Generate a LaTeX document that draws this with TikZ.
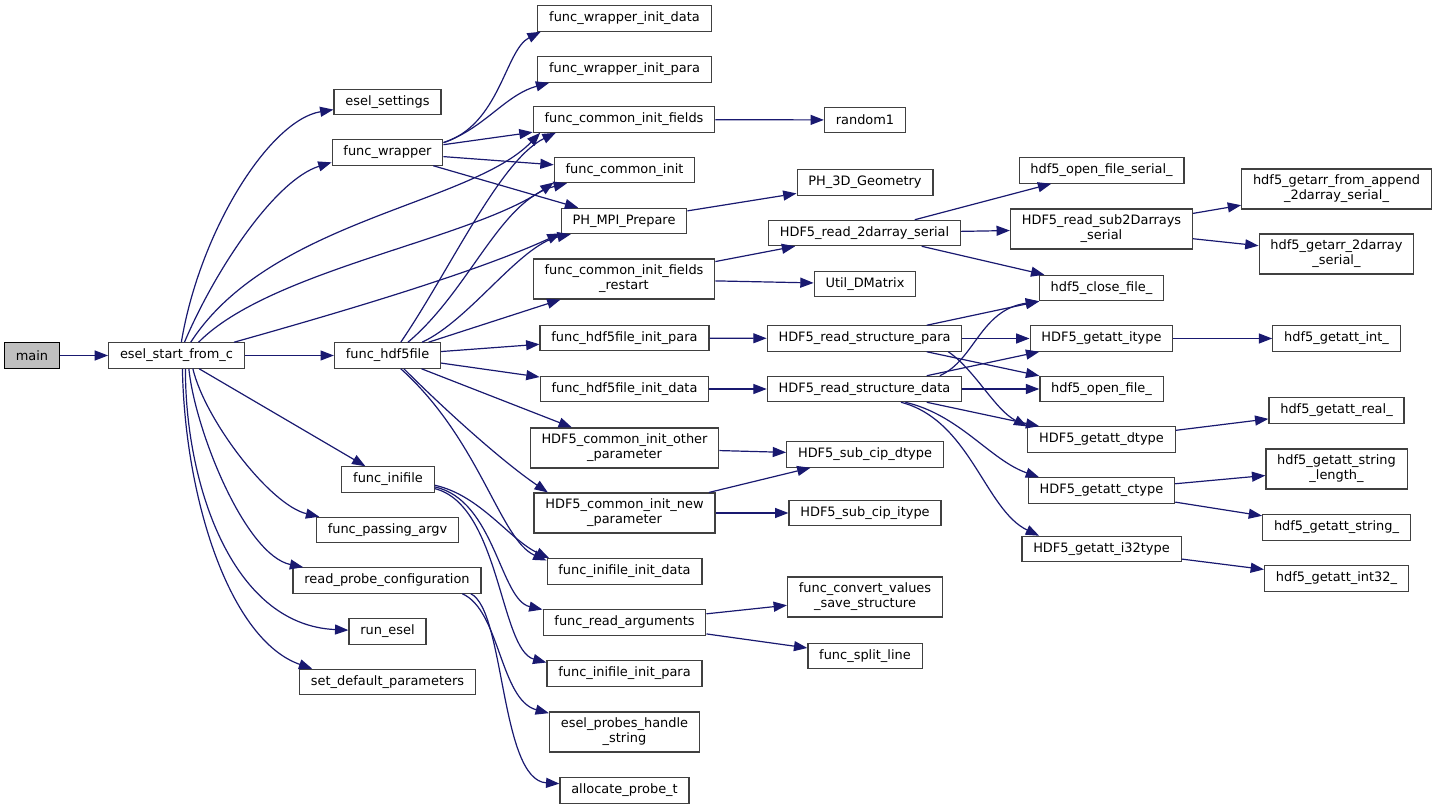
\documentclass[tikz,border=0pt]{standalone}
\usepackage{fontspec}
\setmainfont{DejaVu Sans}
\usetikzlibrary{arrows.meta}
\definecolor{edgeblue}{HTML}{191970}
\definecolor{boxgrey}{HTML}{404040}
\definecolor{maingrey}{HTML}{BFBFBF}

\begin{document}
\begin{tikzpicture}[
  x=0.75pt, y=-0.75pt,
  fn/.style={rectangle, draw=boxgrey, line width=0.9pt, fill=white, minimum height=19pt,
             inner xsep=8.5pt, inner ysep=4.5pt, align=center, font=\fontsize{9.7}{11.25}\selectfont},
  mainfn/.style={fn, draw=black, fill=maingrey},
  call/.style={-{Triangle[length=10pt,width=7.5pt]}, draw=edgeblue, line width=0.9pt}
]
  \useasboundingbox (0,0) rectangle (1437,809);

  \node[mainfn] (main) at (32,355.5) {main};
  \node[fn] (esel) at (176.5,355.5) {esel\_start\_from\_c};

  \node[fn] (settings)  at (387.5,102)   {esel\_settings};
  \node[fn] (wrapper)   at (387.5,152.5) {func\_wrapper};
  \node[fn] (hdf)       at (387.5,355.5) {func\_hdf5file};
  \node[fn] (inifile)   at (388,479.5)   {func\_inifile};
  \node[fn] (argv)      at (387.5,530)   {func\_passing\_argv};
  \node[fn] (probecfg)  at (387,580.5)   {read\_probe\_configuration};
  \node[fn] (runesel)   at (387.5,631.5) {run\_esel};
  \node[fn] (defparams) at (387.5,682)   {set\_default\_parameters};

  \node[fn] (wdata)    at (624.5,18.5)  {func\_wrapper\_init\_data};
  \node[fn] (wpara)    at (624.5,69.5)  {func\_wrapper\_init\_para};
  \node[fn] (cfields)  at (624,119.5)   {func\_common\_init\_fields};
  \node[fn] (cinit)    at (624.5,170)   {func\_common\_init};
  \node[fn] (mpi)      at (624,221)     {PH\_MPI\_Prepare};
  \node[fn] (restart)  at (624,279)     {func\_common\_init\_fields\\\_restart};
  \node[fn] (hpara)    at (624.5,338)   {func\_hdf5file\_init\_para};
  \node[fn] (hdata)    at (624.5,389)   {func\_hdf5file\_init\_data};
  \node[fn] (other)    at (624.5,448)   {HDF5\_common\_init\_other\\\_parameter};
  \node[fn] (newpar)   at (624.5,513)   {HDF5\_common\_init\_new\\\_parameter};
  \node[fn] (inidata)  at (624.5,571.5) {func\_inifile\_init\_data};
  \node[fn] (readargs) at (624.5,622.5) {func\_read\_arguments};
  \node[fn] (inipara)  at (624.5,673.5) {func\_inifile\_init\_para};
  \node[fn] (probes)   at (624.5,732)   {esel\_probes\_handle\\\_string};
  \node[fn] (alloc)    at (624.5,790.5) {allocate\_probe\_t};

  \node[fn] (random)  at (865,120)     {random1};
  \node[fn] (geom)    at (865,182.5)   {PH\_3D\_Geometry};
  \node[fn] (rdarr)   at (864.5,233)   {HDF5\_read\_2darray\_serial};
  \node[fn] (dmat)    at (865,284)     {Util\_DMatrix};
  \node[fn] (spara)   at (864.5,338.5) {HDF5\_read\_structure\_para};
  \node[fn] (sdata)   at (864.5,389)   {HDF5\_read\_structure\_data};
  \node[fn] (cipd)    at (865,454.5)   {HDF5\_sub\_cip\_dtype};
  \node[fn] (cipi)    at (865,513)     {HDF5\_sub\_cip\_itype};
  \node[fn] (convert) at (865,597)     {func\_convert\_values\\\_save\_structure};
  \node[fn] (split)   at (865,656)     {func\_split\_line};

  \node[fn] (openser) at (1101.5,170.5) {hdf5\_open\_file\_serial\_};
  \node[fn] (subarr)  at (1101.5,229)   {HDF5\_read\_sub2Darrays\\\_serial};
  \node[fn] (closef)  at (1101.5,288)   {hdf5\_close\_file\_};
  \node[fn] (itype)   at (1101.5,338.5) {HDF5\_getatt\_itype};
  \node[fn] (openf)   at (1101.5,389)   {hdf5\_open\_file\_};
  \node[fn] (dtype)   at (1101.5,439.5) {HDF5\_getatt\_dtype};
  \node[fn] (ctype)   at (1101.5,490.5) {HDF5\_getatt\_ctype};
  \node[fn] (ithree)  at (1101.5,549)   {HDF5\_getatt\_i32type};

  \node[fn] (append)   at (1336.5,189)   {hdf5\_getarr\_from\_append\\\_2darray\_serial\_};
  \node[fn] (arrtwo)   at (1336.5,254)   {hdf5\_getarr\_2darray\\\_serial\_};
  \node[fn] (getint)   at (1336.5,338.5) {hdf5\_getatt\_int\_};
  \node[fn] (getreal)  at (1336.5,410.5) {hdf5\_getatt\_real\_};
  \node[fn] (strlen)   at (1336.5,469)   {hdf5\_getatt\_string\\\_length\_};
  \node[fn] (getstr)   at (1336.5,527.5) {hdf5\_getatt\_string\_};
  \node[fn] (getint32) at (1336.5,578.5) {hdf5\_getatt\_int32\_};

  \draw[call] (main) -- (esel);

  \draw[call] (esel.70) .. controls (200,230) and (270,120) .. (settings.188);
  \draw[call] (esel.59) .. controls (215,270) and (275,180) .. (wrapper.190);
  \draw[call] (esel.43) .. controls (270,220) and (470,205) .. (cfields.189);
  \draw[call] (esel.31) .. controls (270,270) and (470,240) .. (cinit.190);
  \draw[call] (esel.13) .. controls (320,318) and (470,275) .. (mpi.191);
  \draw[call] (esel) -- (hdf);
  \draw[call] (esel) -- (inifile);
  \draw[call] (esel.-39) .. controls (205,420) and (270,505) .. (argv.169);
  \draw[call] (esel.-47) .. controls (195,430) and (245,555) .. (probecfg.171);
  \draw[call] (esel.-56) .. controls (185,480) and (230,625) .. (runesel.178);
  \draw[call] (esel.-66) .. controls (185,500) and (230,640) .. (defparams.170);

  \draw[call] (wrapper.10) .. controls (500,125) and (505,50) .. (wdata.189);
  \draw[call] (wrapper.10) .. controls (485,128) and (505,95) .. (wpara.190);
  \draw[call] (wrapper) -- (cfields);
  \draw[call] (wrapper) -- (cinit);
  \draw[call] (wrapper) -- (mpi);

  \draw[call] (hdf.45) .. controls (450,270) and (500,160) .. (cfields.191);
  \draw[call] (hdf.33) .. controls (470,290) and (500,200) .. (cinit.193);
  \draw[call] (hdf.21) .. controls (470,320) and (520,245) .. (mpi.194);
  \draw[call] (hdf) -- (restart);
  \draw[call] (hdf) -- (hpara);
  \draw[call] (hdf) -- (hdata);
  \draw[call] (hdf) -- (other);
  \draw[call] (hdf.-39) .. controls (440,405) and (500,460) .. (newpar.165);
  \draw[call] (hdf.-45) .. controls (480,440) and (500,540) .. (inidata.172);

  \draw[call] (inifile.-7) .. controls (480,495) and (510,540) .. (inidata.170);
  \draw[call] (inifile.-9) .. controls (495,500) and (500,600) .. (readargs.171);
  \draw[call] (inifile.-11) .. controls (500,505) and (500,650) .. (inipara.172);

  \draw[call] (probecfg.-10) .. controls (500,610) and (500,700) .. (probes.166);
  \draw[call] (probecfg.-9) .. controls (505,610) and (500,780) .. (alloc.174);

  \draw[call] (cfields) -- (random);
  \draw[call] (mpi) -- (geom);
  \draw[call] (restart) -- (rdarr);
  \draw[call] (restart) -- (dmat);
  \draw[call] (hpara) -- (spara);
  \draw[call] (hdata) -- (sdata);
  \draw[call] (other) -- (cipd);
  \draw[call] (newpar) -- (cipd);
  \draw[call] (newpar) -- (cipi);
  \draw[call] (readargs) -- (convert);
  \draw[call] (readargs) -- (split);

  \draw[call] (rdarr) -- (openser);
  \draw[call] (rdarr) -- (subarr);
  \draw[call] (rdarr) -- (closef);
  \draw[call] (spara) -- (closef);
  \draw[call] (spara) -- (itype);
  \draw[call] (spara) -- (openf);
  \draw[call] (spara.-9) .. controls (975,370) and (995,410) .. (dtype.170);
  \draw[call] (sdata.10) .. controls (975,360) and (980,310) .. (closef.192);
  \draw[call] (sdata) -- (itype);
  \draw[call] (sdata) -- (openf);
  \draw[call] (sdata) -- (dtype);
  \draw[call] (sdata.-18) .. controls (960,415) and (990,460) .. (ctype.168);
  \draw[call] (sdata.-20) .. controls (970,420) and (985,510) .. (ithree.168);

  \draw[call] (subarr) -- (append);
  \draw[call] (subarr) -- (arrtwo);
  \draw[call] (itype) -- (getint);
  \draw[call] (dtype) -- (getreal);
  \draw[call] (ctype) -- (strlen);
  \draw[call] (ctype) -- (getstr);
  \draw[call] (ithree) -- (getint32);
\end{tikzpicture}
\end{document}
